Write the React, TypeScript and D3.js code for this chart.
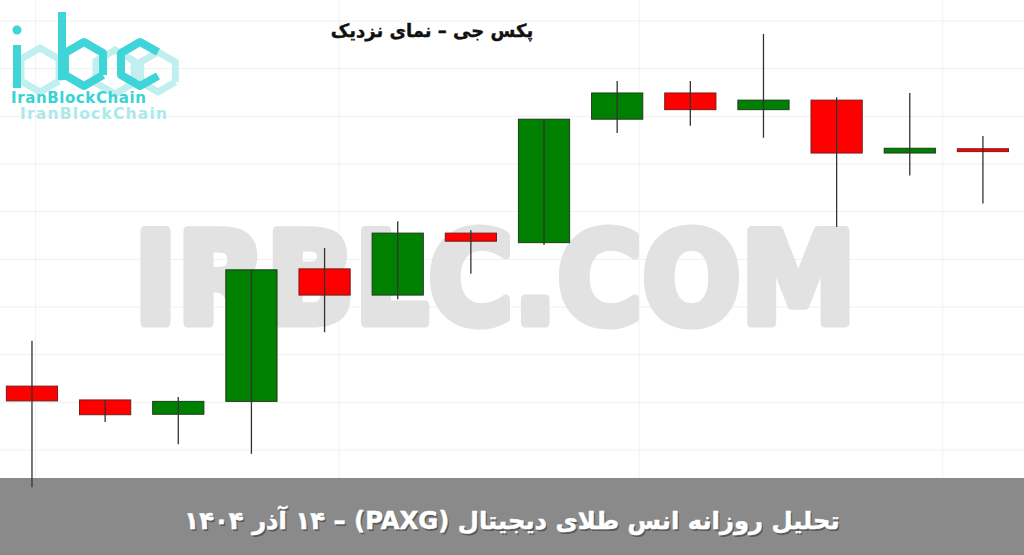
import React from 'react';
import * as d3 from 'd3';

// PAXG daily candles (price units are arbitrary but consistent)
const days = ['1', '2', '3', '4', '5', '6', '7', '8', '9', '10', '11', '12', '13', '14'];
const opens = [4173.4, 4170.5, 4167.5, 4170.2, 4198.0, 4192.5, 4205.5, 4203.5, 4229.4, 4234.9, 4231.4, 4233.4, 4222.3, 4223.2];
const closes = [4170.3, 4167.4, 4170.2, 4197.8, 4192.5, 4205.5, 4203.8, 4229.4, 4234.9, 4231.4, 4233.4, 4222.3, 4223.3, 4222.6];
const highs = [4182.9, 4170.5, 4171.1, 4197.8, 4202.4, 4208.0, 4206.1, 4229.4, 4237.4, 4237.4, 4247.3, 4234.0, 4234.9, 4225.9];
const lows = [4152.2, 4165.9, 4161.2, 4159.2, 4184.7, 4191.6, 4197.0, 4203.0, 4226.5, 4228.0, 4225.5, 4206.8, 4217.6, 4211.7];

const priceTicks = [4160, 4170, 4180, 4190, 4200, 4210, 4220, 4230, 4240, 4250];
const timeGrid = [0.55, 4.7, 8.8, 12.95];

const W = 1024;
const H = 555;

export default function App() {
  const x = d3.scaleBand<string>()
    .domain(days)
    .range([-4.6, 1019.5])
    .paddingInner(0.3)
    .paddingOuter(0.15);

  const xIdx = d3.scaleLinear().domain([0, days.length]).range([-4.6, 1019.5]);

  const y = d3.scaleLinear().domain([4160, 4250]).range([450, 21]);

  const candles = days.map((d, i) => ({
    day: d,
    open: opens[i],
    close: closes[i],
    high: highs[i],
    low: lows[i],
  }));

  const hex = (cx: number, cy: number, r: number) => {
    const pts = d3.range(6).map(k => {
      const a = (Math.PI / 3) * k + Math.PI / 6;
      return [cx + r * Math.cos(a), cy + r * Math.sin(a)] as [number, number];
    });
    return d3.line()([...pts, pts[0]]) || '';
  };

  const banner = 'تحلیل روزانه  انس طلای دیجیتال (PAXG) – ۱۴ آذر ۱۴۰۴';

  return (
    <div style={{ position: 'absolute', left: 0, top: 0 }}>
      <svg width={W} height={H} style={{ display: 'block', background: '#fff' }}>
        {/* grid */}
        <g>
          {priceTicks.map(t => (
            <line key={t} x1={0} x2={W} y1={y(t)} y2={y(t)} stroke="#f0f0f0" strokeWidth={1} />
          ))}
          {timeGrid.map(t => (
            <line key={t} x1={xIdx(t)} x2={xIdx(t)} y1={0} y2={478} stroke="#f2f2f2" strokeWidth={1} />
          ))}
        </g>

        {/* watermark */}
        <text
          x={134}
          y={323}
          textLength={722}
          lengthAdjust="spacingAndGlyphs"
          fontFamily="'DejaVu Sans', sans-serif"
          fontWeight="bold"
          fontSize={127}
          fill="#e2e2e2"
          stroke="#e2e2e2"
          strokeWidth={9}
          strokeLinejoin="round"
        >
          IRBLC.COM
        </text>

        {/* logo */}
        <g opacity={0.95}>
          <g fill="none" stroke="#bdeff0" strokeWidth={7}>
            <path d={hex(40, 70, 22)} />
            <path d={hex(115, 72, 22)} />
            <path d={hex(158, 72, 20)} />
          </g>
          <g fill="none" stroke="#35d3d6" strokeWidth={8} strokeLinejoin="round">
            <line x1={17} x2={17} y1={45} y2={88} />
            <line x1={62} x2={62} y1={12} y2={80} />
            <path d={hex(84, 64, 22)} />
            <path d="M158,52 L140,42 L121,53 L121,75 L140,86 L158,76" />
          </g>
          <circle cx={17} cy={30} r={4.5} fill="#35d3d6" />
          <text x={11} y={103} fontFamily="'DejaVu Sans', sans-serif" fontWeight="bold" fontSize={15} letterSpacing={0.6} fill="#2fd0d3">
            IranBlockChain
          </text>
          <text x={20} y={119} fontFamily="'DejaVu Sans', sans-serif" fontWeight="bold" fontSize={15.5} letterSpacing={1.2} fill="#a6e9ea">
            IranBlockChain
          </text>
        </g>

        {/* title */}
        <text
          x={432}
          y={37}
          textAnchor="middle"
          direction="rtl"
          fontFamily="'DejaVu Sans', sans-serif"
          fontWeight="bold"
          fontSize={18}
          fill="#111"
          stroke="#111"
          strokeWidth={0.4}
        >
          پکس جی – نمای نزدیک
        </text>

        {/* bottom banner */}
        <rect x={0} y={478} width={W} height={H - 478} fill="#8a8a8a" />

        {/* candles */}
        <g>
          {candles.map(c => {
            const cx = (x(c.day) || 0) + x.bandwidth() / 2;
            const up = c.close >= c.open;
            const top = y(Math.max(c.open, c.close));
            const bot = y(Math.min(c.open, c.close));
            return (
              <g key={c.day}>
                <rect
                  x={x(c.day)}
                  y={top}
                  width={x.bandwidth()}
                  height={Math.max(bot - top, 2)}
                  fill={up ? '#008000' : '#ff0000'}
                  stroke={up ? '#1d3b1d' : '#7a1a1a'}
                  strokeWidth={1}
                />
                <line x1={cx} x2={cx} y1={y(c.high)} y2={y(c.low)} stroke="#333" strokeWidth={1.3} />
              </g>
            );
          })}
        </g>

        <text
          x={513.5}
          y={530.5}
          textAnchor="middle"
          direction="rtl"
          fontFamily="'DejaVu Sans', sans-serif"
          fontWeight="bold"
          fontSize={24.3}
          fill="#333"
          opacity={0.55}
        >
          {banner}
        </text>
        <text
          x={512}
          y={529}
          textAnchor="middle"
          direction="rtl"
          fontFamily="'DejaVu Sans', sans-serif"
          fontWeight="bold"
          fontSize={24.3}
          fill="#ffffff"
          stroke="#ffffff"
          strokeWidth={0.5}
        >
          {banner}
        </text>
      </svg>
    </div>
  );
}
